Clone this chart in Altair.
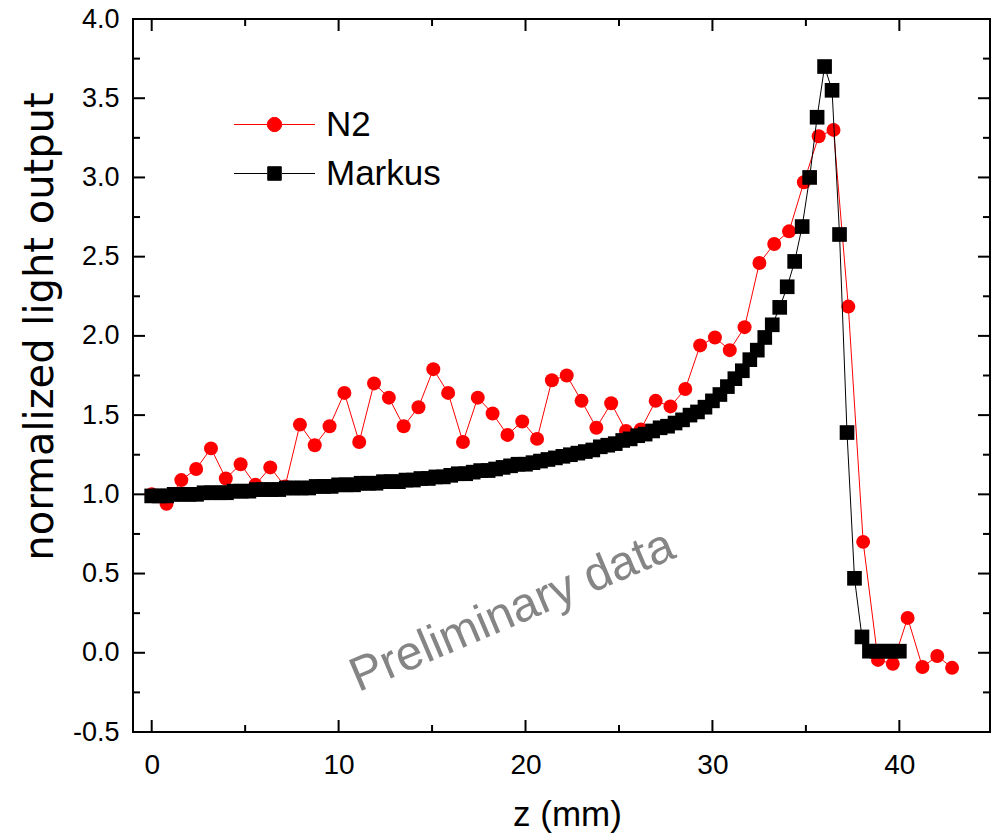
import altair as alt
import pandas as pd

series_names = ["N2", "Markus"]
series_colors = ["#ff0000", "#000000"]

n2_z = [0.0, 0.793, 1.586, 2.379, 3.172, 3.965, 4.758, 5.551, 6.344, 7.137,
        7.93, 8.723, 9.516, 10.309, 11.102, 11.895, 12.688, 13.481, 14.274, 15.067,
        15.86, 16.653, 17.446, 18.239, 19.032, 19.825, 20.618, 21.411, 22.204, 22.997,
        23.79, 24.583, 25.376, 26.169, 26.962, 27.755, 28.548, 29.341, 30.134, 30.927,
        31.72, 32.513, 33.306, 34.099, 34.892, 35.685, 36.478, 37.271, 38.064, 38.857,
        39.65, 40.443, 41.236, 42.029, 42.822]
n2_val = [1.00, 0.94, 1.09, 1.16, 1.29, 1.10, 1.19, 1.06, 1.17, 1.05,
          1.44, 1.31, 1.43, 1.64, 1.33, 1.70, 1.61, 1.43, 1.55, 1.79,
          1.64, 1.33, 1.61, 1.51, 1.375, 1.46, 1.35, 1.72, 1.75, 1.59,
          1.42, 1.575, 1.40, 1.41, 1.59, 1.555, 1.665, 1.94, 1.99, 1.91,
          2.055, 2.46, 2.58, 2.66, 2.97, 3.26, 3.30, 2.185, 0.70, -0.045,
          -0.07, 0.22, -0.09, -0.02, -0.095]

markus_z = [0.0, 0.4, 0.8, 1.2, 1.6, 2.0, 2.4, 2.8, 3.2, 3.6,
            4.0, 4.4, 4.8, 5.2, 5.6, 6.0, 6.4, 6.8, 7.2, 7.6,
            8.0, 8.4, 8.8, 9.2, 9.6, 10.0, 10.4, 10.8, 11.2, 11.6,
            12.0, 12.4, 12.8, 13.2, 13.6, 14.0, 14.4, 14.8, 15.2, 15.6,
            16.0, 16.4, 16.8, 17.2, 17.6, 18.0, 18.4, 18.8, 19.2, 19.6,
            20.0, 20.4, 20.8, 21.2, 21.6, 22.0, 22.4, 22.8, 23.2, 23.6,
            24.0, 24.4, 24.8, 25.2, 25.6, 26.0, 26.4, 26.8, 27.2, 27.6,
            28.0, 28.4, 28.8, 29.2, 29.6, 30.0, 30.4, 30.8, 31.2, 31.6,
            32.0, 32.4, 32.8, 33.2, 33.6, 34.0, 34.4, 34.8, 35.2, 35.6,
            36.0, 36.4, 36.8, 37.2, 37.6, 38.0, 38.4, 38.8, 39.2, 39.6,
            40.0]
markus_val = [0.99, 0.99, 0.99, 1.00, 1.00, 1.00, 1.00, 1.01, 1.01, 1.01,
              1.01, 1.02, 1.02, 1.02, 1.03, 1.03, 1.03, 1.03, 1.04, 1.04,
              1.04, 1.04, 1.05, 1.05, 1.05, 1.06, 1.06, 1.06, 1.07, 1.07,
              1.07, 1.08, 1.08, 1.08, 1.09, 1.09, 1.10, 1.10, 1.11, 1.11,
              1.12, 1.13, 1.13, 1.14, 1.15, 1.15, 1.16, 1.17, 1.18, 1.19,
              1.19, 1.20, 1.21, 1.22, 1.23, 1.24, 1.25, 1.26, 1.27, 1.28,
              1.30, 1.31, 1.32, 1.34, 1.35, 1.37, 1.38, 1.40, 1.42, 1.43,
              1.45, 1.47, 1.50, 1.52, 1.55, 1.59, 1.63, 1.68, 1.73, 1.78,
              1.85, 1.91, 1.99, 2.07, 2.18, 2.31, 2.47, 2.69, 3.00, 3.38,
              3.70, 3.55, 2.64, 1.39, 0.47, 0.10, 0.01, 0.01, 0.01, 0.01,
              0.01]

x_major = [0, 10, 20, 30, 40]
x_minor = [5, 15, 25, 35]
y_major = [-0.5, 0.0, 0.5, 1.0, 1.5, 2.0, 2.5, 3.0, 3.5, 4.0]
y_minor = [-0.25, 0.25, 0.75, 1.25, 1.75, 2.25, 2.75, 3.25, 3.75]
x_range = [-1, 44.85]
y_range = [-0.5, 4.0]

watermark_text = ["Preliminary data"]
watermark_z = [19.3]
watermark_v = [0.26]

x_title = "z (mm)"
y_title = "normalized light output"

W, H = 857, 713
FONT = "Liberation Sans"
MAJOR, MINOR = 12, 7

n2_df = pd.DataFrame({"z": n2_z, "v": n2_val, "series": "N2"})
mk_df = pd.DataFrame({"z": markus_z, "v": markus_val, "series": "Markus"})
all_df = pd.concat([n2_df, mk_df], ignore_index=True)
wm_df = pd.DataFrame({"z": watermark_z, "v": watermark_v, "t": watermark_text})

xs = alt.Scale(domain=x_range, nice=False, zero=False)
ys = alt.Scale(domain=y_range, nice=False, zero=False)


def x_ticks(values, edge, length, inward):
    # vertical tick marks at the x tick values, on the bottom or top frame edge
    df = pd.DataFrame({"z": values, "v": [edge] * len(values)})
    return alt.Chart(df).mark_tick(orient="vertical", size=length, thickness=2,
                                   color="black", opacity=1,
                                   yOffset=inward * length / 2).encode(
        x=alt.X("z:Q", scale=xs, axis=None),
        y=alt.Y("v:Q", scale=ys, axis=None),
    )


def y_ticks(values, edge, length, inward):
    # horizontal tick marks at the y tick values, on the left or right frame edge
    df = pd.DataFrame({"z": [edge] * len(values), "v": values})
    return alt.Chart(df).mark_tick(orient="horizontal", size=length, thickness=2,
                                   color="black", opacity=1,
                                   xOffset=inward * length / 2).encode(
        x=alt.X("z:Q", scale=xs, axis=None),
        y=alt.Y("v:Q", scale=ys, axis=None),
    )


tick_layers = [
    x_ticks(x_major, y_range[0], MAJOR, -1), x_ticks(x_minor, y_range[0], MINOR, -1),
    x_ticks(x_major, y_range[1], MAJOR, 1), x_ticks(x_minor, y_range[1], MINOR, 1),
    y_ticks(y_major, x_range[0], MAJOR, 1), y_ticks(y_minor, x_range[0], MINOR, 1),
    y_ticks(y_major, x_range[1], MAJOR, -1), y_ticks(y_minor, x_range[1], MINOR, -1),
]

x_lab = alt.Axis(orient="bottom", values=x_major, format="d", ticks=False,
                 domain=False, grid=False,
                 labelFont=FONT, labelFontSize=28, labelColor="black",
                 labelPadding=19, title=x_title, titleFont=FONT,
                 titleFontSize=35, titleFontWeight="normal", titleColor="black",
                 titleX=434, titleY=82, titleBaseline="middle", titleAlign="center")
y_lab = alt.Axis(orient="left", values=y_major, ticks=False,
                 domain=False, grid=False,
                 labelFont=FONT, labelFontSize=27, labelColor="black",
                 labelPadding=14,
                 labelExpr="datum.value < 0 ? '-' + format(-datum.value, '.1f') : format(datum.value, '.1f')",
                 title=y_title, titleFont="DejaVu Sans", titleFontSize=40,
                 titleFontWeight="normal", titleColor="black", titleAngle=270,
                 titleX=-93, titleY=307, titleBaseline="middle", titleAlign="center")

path_n2 = "M-5.4,0L-1,0M1,0L5.4,0M0.95,0A0.95,0.95,0,1,1,-0.95,0A0.95,0.95,0,1,1,0.95,0Z"
path_mk = "M-5.4,0L-1,0M1,0L5.4,0M-0.9,-0.9L0.9,-0.9L0.9,0.9L-0.9,0.9Z"

leg = alt.Legend(title=None, orient="none", legendX=124, legendY=88,
                 padding=0, symbolSize=225, symbolStrokeWidth=1,
                 symbolOpacity=1, labelFont=FONT, labelFontSize=35,
                 labelColor="black", labelOffset=34, rowPadding=13,
                 labelLimit=400)

n2_line = alt.Chart(n2_df).mark_line(color="#ff0000", strokeWidth=1).encode(
    x=alt.X("z:Q", scale=xs, axis=x_lab),
    y=alt.Y("v:Q", scale=ys, axis=y_lab),
)
n2_pts = alt.Chart(n2_df).mark_point(shape="circle", filled=True, size=195,
                                     color="#ff0000", opacity=1).encode(
    x=alt.X("z:Q", scale=xs, axis=None),
    y=alt.Y("v:Q", scale=ys, axis=None),
)
mk_line = alt.Chart(mk_df).mark_line(color="#000000", strokeWidth=1).encode(
    x=alt.X("z:Q", scale=xs, axis=None),
    y=alt.Y("v:Q", scale=ys, axis=None),
)
mk_pts = alt.Chart(mk_df).mark_point(shape="square", filled=True, size=215,
                                     color="#000000", opacity=1).encode(
    x=alt.X("z:Q", scale=xs, axis=None),
    y=alt.Y("v:Q", scale=ys, axis=None),
)
legend_layer = alt.Chart(all_df).transform_filter("false").mark_point(
    filled=True, opacity=1).encode(
    x=alt.X("z:Q", scale=xs, axis=None),
    y=alt.Y("v:Q", scale=ys, axis=None),
    fill=alt.Fill("series:N", scale=alt.Scale(domain=series_names, range=series_colors), legend=leg),
    stroke=alt.Stroke("series:N", scale=alt.Scale(domain=series_names, range=series_colors), legend=leg),
    shape=alt.Shape("series:N", scale=alt.Scale(domain=series_names, range=[path_n2, path_mk]), legend=leg),
)
wm = alt.Chart(wm_df).mark_text(angle=337, font=FONT, fontSize=48,
                                color="#858585", align="center",
                                baseline="middle").encode(
    x=alt.X("z:Q", scale=xs, axis=None),
    y=alt.Y("v:Q", scale=ys, axis=None),
    text="t:N",
)

chart = alt.layer(*tick_layers, n2_line, n2_pts, mk_line, mk_pts, legend_layer, wm).resolve_axis(
    x="independent", y="independent"
).properties(
    width=W, height=H,
    autosize=alt.AutoSizeParams(type="none"),
    padding={"left": 133, "top": 19, "right": 6, "bottom": 105},
    background="white",
).configure_view(stroke="black", strokeWidth=2)

chart.save("out.html", embed_options={"renderer": "svg", "actions": False})
